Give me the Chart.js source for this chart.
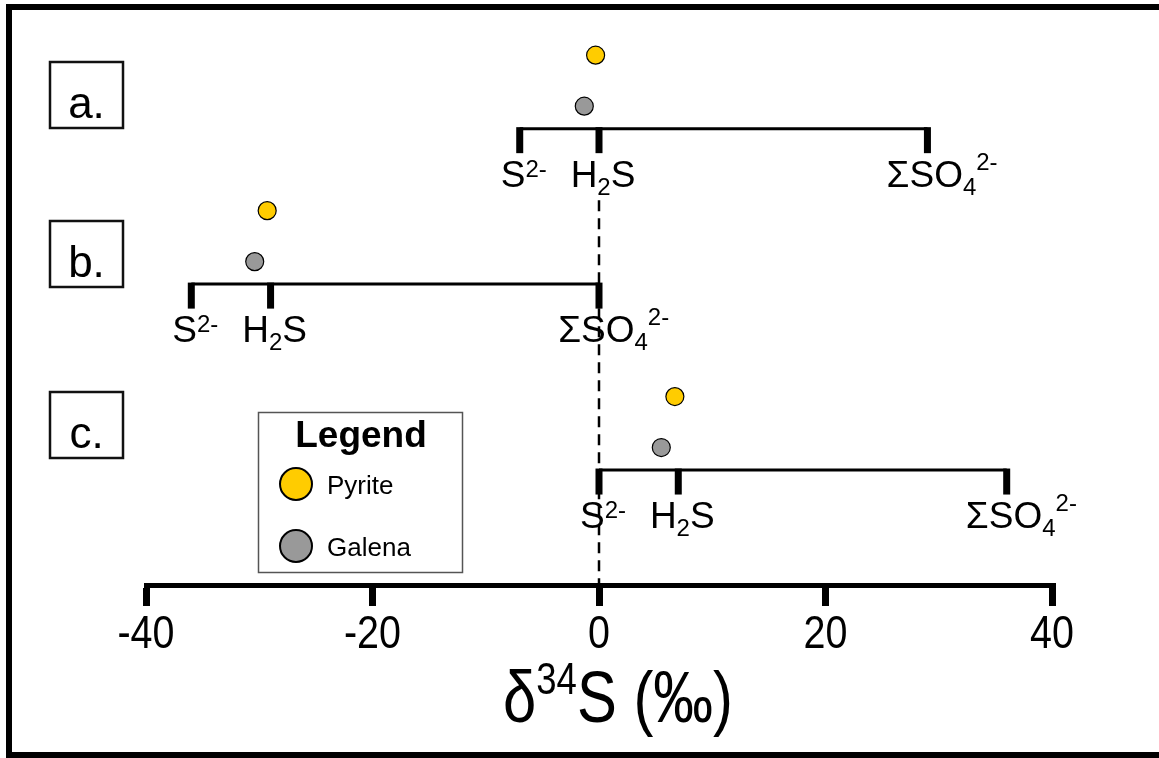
<!DOCTYPE html>
<html>
<head>
<meta charset="utf-8">
<script src="https://cdn.jsdelivr.net/npm/chart.js@4.4.1/dist/chart.umd.min.js"></script>
<style>
html,body{margin:0;padding:0;background:#fff;}
#wrap{width:1159px;height:758px;position:relative;}
</style>
</head>
<body>
<div id="wrap"><canvas id="c"></canvas></div>
<script>
// ---------- data (δ34S, ‰) ----------
const rowNames   = ['a.', 'b.', 'c.'];
const sulfideS2  = [-7, -36, 0];     // S2-
const sulfideH2S = [0, -29, 7];      // H2S
const sulfate    = [29, 0, 36];      // ΣSO4 2-
const pyrite     = [-0.3, -29.3, 6.7];
const galena     = [-1.3, -30.4, 5.5];
const xTicks     = [-40, -20, 0, 20, 40];
const axisTitle  = ['δ', '34', 'S (‰)'];
const legendNames = ['Pyrite', 'Galena'];

// ---------- layout (not data) ----------
const rowLevel = [9.13, 6.02, 2.3];
const galenaOffset = 0.45, pyriteOffset = 1.47;
const PYR_COLOR = '#FFCC00', GAL_COLOR = '#999999';

const bracketSets = rowLevel.map((lv, i) => {
  const vals = [sulfideS2[i], sulfideH2S[i], sulfate[i]];
  return {
    type: 'line', label: 'row ' + rowNames[i],
    data: [{x: Math.min(...vals), y: lv}, {x: Math.max(...vals), y: lv}],
    borderColor: '#000', borderWidth: 3, pointRadius: 0, order: 2
  };
});

const dashedSet = {
  type: 'line', label: 'zero',
  data: [{x: 0, y: 7.7}, {x: 0, y: 0}],
  borderColor: '#000', borderWidth: 2.5, borderDash: [11, 7], pointRadius: 0, order: 3
};

const pyriteSet = {
  type: 'scatter', label: legendNames[0],
  data: pyrite.map((v, i) => ({x: v, y: rowLevel[i] + pyriteOffset})),
  backgroundColor: PYR_COLOR, borderColor: '#000', borderWidth: 1.2, pointRadius: 9, order: 0
};
const galenaSet = {
  type: 'scatter', label: legendNames[1],
  data: galena.map((v, i) => ({x: v, y: rowLevel[i] + galenaOffset})),
  backgroundColor: GAL_COLOR, borderColor: '#000', borderWidth: 1.2, pointRadius: 9, order: 0
};

const MAIN = '37px "Liberation Sans", Arial, sans-serif';
const SMALL = '24px "Liberation Sans", Arial, sans-serif';

function drawRich(ctx, segs, cx, baseY, sx) {
  sx = sx || 1;
  let anchorW = 0;
  segs.forEach(s => { ctx.font = s.font; s.w = ctx.measureText(s.t).width; if (!s.noAnchor) anchorW += s.w; });
  ctx.save();
  ctx.translate(cx, baseY);
  ctx.scale(sx, 1);
  let x = -anchorW / 2;
  ctx.textAlign = 'left'; ctx.textBaseline = 'alphabetic';
  segs.forEach(s => { ctx.font = s.font; ctx.fillText(s.t, x, (s.dy || 0)); x += s.w; });
  ctx.restore();
}

const labelS2  = () => [{t: 'S', font: MAIN}, {t: '2-', font: SMALL, dy: -10}];
const labelH2S = () => [{t: 'H', font: MAIN}, {t: '2', font: SMALL, dy: 8}, {t: 'S', font: MAIN}];
const labelSO4 = () => [{t: 'ΣSO', font: MAIN}, {t: '4', font: SMALL, dy: 8}, {t: '2-', font: SMALL, dy: -17, noAnchor: true}];

const decor = {
  id: 'decor',
  beforeDraw(chart) {
    const ctx = chart.ctx;
    ctx.save();
    ctx.fillStyle = '#fff';
    ctx.fillRect(0, 0, chart.width, chart.height);
    ctx.restore();
  },
  afterDatasetsDraw(chart) {
    const ctx = chart.ctx, xs = chart.scales.x, ys = chart.scales.y;
    ctx.save();
    // bracket ticks and species labels
    rowLevel.forEach((lv, i) => {
      const yPix = ys.getPixelForValue(lv);
      const specs = [[sulfideS2[i], labelS2()], [sulfideH2S[i], labelH2S()], [sulfate[i], labelSO4()]];
      specs.forEach(([v, segs]) => {
        const xp = xs.getPixelForValue(v);
        ctx.fillStyle = '#000';
        ctx.fillRect(xp - 3.5, yPix - 1.5, 7, 26);
        drawRich(ctx, segs, xp + 4, yPix + 58);
      });
    });
    // x tick labels (condensed), placed by the x scale
    ctx.fillStyle = '#000';
    xs.ticks.forEach(t => {
      const xp = xs.getPixelForValue(t.value);
      drawRich(ctx, [{t: String(t.value), font: '47px "Liberation Sans", Arial, sans-serif'}], xp, 648, 0.84);
    });
    // row label boxes
    const boxTops = [62, 221, 392];
    rowNames.forEach((n, i) => {
      ctx.lineWidth = 2.5; ctx.strokeStyle = '#111';
      ctx.strokeRect(50, boxTops[i], 73, 66);
      ctx.fillStyle = '#000';
      ctx.font = '44px "Liberation Sans", Arial, sans-serif';
      ctx.textAlign = 'center'; ctx.textBaseline = 'alphabetic';
      ctx.fillText(n, 86.5, boxTops[i] + 56);
    });
    // legend
    ctx.lineWidth = 1.5; ctx.strokeStyle = '#555';
    ctx.strokeRect(258.5, 412.5, 204, 160);
    ctx.fillStyle = '#000';
    ctx.font = 'bold 37px "Liberation Sans", Arial, sans-serif';
    ctx.textAlign = 'center';
    ctx.fillText('Legend', 361, 447);
    const items = [[legendNames[0], PYR_COLOR, 484], [legendNames[1], GAL_COLOR, 546]];
    items.forEach(([name, col, cy]) => {
      ctx.beginPath(); ctx.arc(296, cy, 16, 0, Math.PI * 2);
      ctx.fillStyle = col; ctx.fill();
      ctx.lineWidth = 2; ctx.strokeStyle = '#000'; ctx.stroke();
      ctx.fillStyle = '#000';
      ctx.font = '26px "Liberation Sans", Arial, sans-serif';
      ctx.textAlign = 'left';
      ctx.fillText(name, 327, cy + 10);
    });
    // axis title (condensed)
    const tSegs = [
      {t: axisTitle[0], font: '72px "Liberation Sans", Arial, sans-serif'},
      {t: axisTitle[1], font: '44px "Liberation Sans", Arial, sans-serif', dy: -28},
      {t: axisTitle[2], font: '72px "Liberation Sans", Arial, sans-serif'}
    ];
    drawRich(ctx, tSegs, 618, 722, 0.83);
    // outer frame
    ctx.lineWidth = 6; ctx.strokeStyle = '#000';
    ctx.strokeRect(9, 7, 1200, 748);
    ctx.restore();
  }
};

new Chart(document.getElementById('c'), {
  type: 'scatter',
  data: {datasets: [pyriteSet, galenaSet, ...bracketSets, dashedSet]},
  options: {
    responsive: true, maintainAspectRatio: false, animation: false,
    layout: {padding: {left: 146, right: 107, top: 10, bottom: 0}},
    plugins: {legend: {display: false}, tooltip: {enabled: false}},
    scales: {
      x: {
        type: 'linear', min: -40, max: 40, position: 'bottom',
        afterBuildTicks: s => { s.ticks = xTicks.map(v => ({value: v})); },
        afterFit: s => { s.height = 173; },
        border: {display: true, width: 5, color: '#000'},
        grid: {display: true, drawOnChartArea: false, drawTicks: true, tickLength: 21, lineWidth: 7, tickWidth: 7, color: '#000', tickColor: '#000'},
        ticks: {display: false}
      },
      y: {type: 'linear', min: 0, max: 11.5, display: false}
    }
  },
  plugins: [decor]
});
</script>
</body>
</html>
